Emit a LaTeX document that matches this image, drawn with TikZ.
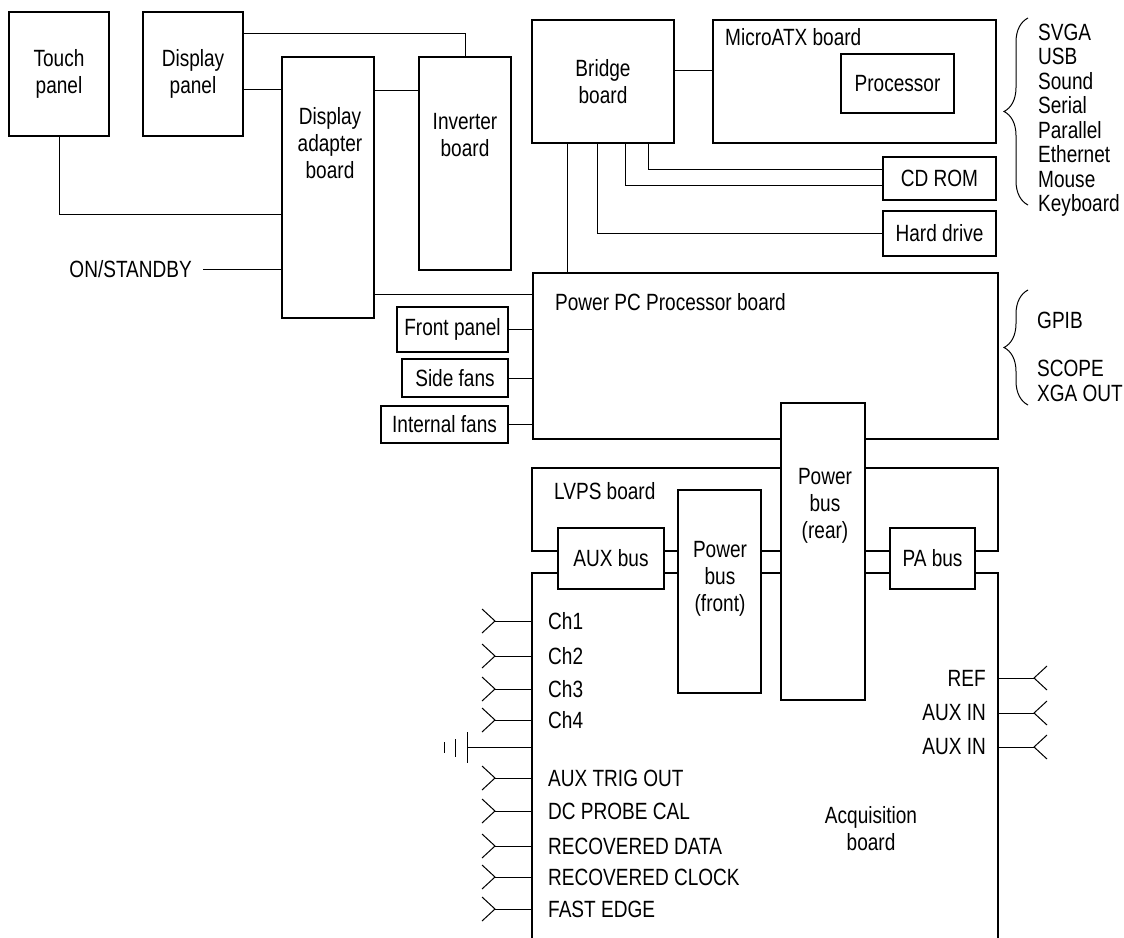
\documentclass[tikz,border=0pt]{standalone}
\usepackage{fontspec}
\setmainfont{Liberation Sans}[FakeStretch=0.81]
\usetikzlibrary{calc,positioning,decorations.pathreplacing}

\begin{document}
\begin{tikzpicture}[x=1pt, y=-1pt,
  box/.style={draw, line width=2pt, inner sep=0pt, align=center, font=\fontsize{23.5}{27}\selectfont},
  bus/.style={box, fill=white},
  wire/.style={line width=1pt},
  txt/.style={inner sep=0pt, align=center, font=\fontsize{23.5}{27}\selectfont},
  brc/.style={line width=1pt, decorate, decoration={brace, amplitude=24pt}}]
\useasboundingbox (0,0) rectangle (1124,937);

% display side
\node[box, minimum width=100pt, minimum height=124pt] (touch) at (59,74) {Touch\\panel};
\node[box, minimum width=100pt, minimum height=124pt] (dpanel) at (193,74) {Display\\panel};
\node[box, minimum width=92pt, minimum height=261pt] (adapter) at (328,187.5) {};
\node[txt] (adaptert) at (330,143.5) {Display\\adapter\\board};
\node[box, minimum width=92pt, minimum height=213pt] (inverter) at (465,163.5) {};
\node[txt] (invertert) at (465,135) {Inverter\\board};
\node[txt, anchor=east] (onstby) at (192,269) {ON/STANDBY};

% pc side
\node[box, minimum width=142pt, minimum height=123pt] (bridge) at (603,81.5) {Bridge\\board};
\node[box, minimum width=283pt, minimum height=123pt] (micro) at (854.5,81.5) {};
\node[txt, anchor=west] (microt) at (725,37) {MicroATX board};
\node[box, line width=1.2pt, minimum width=113pt, minimum height=59pt] (proc) at (897.5,83.5) {Processor};
\node[box, minimum width=113pt, minimum height=43pt] (cdrom) at (939.5,178.5) {CD ROM};
\node[box, minimum width=113pt, minimum height=45pt] (hdd) at (939.5,233.5) {Hard drive};

\node[box, minimum width=465pt, minimum height=166pt] (ppc) at (765.5,356) {};
\node[txt, anchor=west] (ppct) at (555,302) {Power PC Processor board};
\node[box, minimum width=111pt, minimum height=45pt] (fpanel) at (452.5,329.5) {Front panel};
\node[box, minimum width=106pt, minimum height=38pt] (sfans) at (455,378) {Side fans};
\node[box, minimum width=127pt, minimum height=37pt] (ifans) at (444.5,424.5) {Internal fans};

% power and acquisition
\node[box, minimum width=466pt, minimum height=83pt] (lvps) at (765,509.5) {};
\node[txt, anchor=west] (lvpst) at (554,491) {LVPS board};
\node[inner sep=0pt, minimum width=466pt, minimum height=366pt] (acq) at (765,756) {};
\draw[line width=2pt] (acq.south west) -- (acq.north west) -- (acq.north east) -- (acq.south east);
\node[txt] (acqt) at (871,829) {Acquisition\\board};

\node[bus, minimum width=84pt, minimum height=297pt] (rear) at (823,551.5) {};
\node[txt] (reart) at (825,505.5) {Power\\bus\\(rear)};
\node[bus, minimum width=83pt, minimum height=203pt] (front) at (719.5,591.5) {};
\node[txt] (frontt) at (720,578.5) {Power\\bus\\(front)};
\node[bus, minimum width=106pt, minimum height=61pt] (auxbus) at (611,558.5) {AUX bus};
\node[bus, minimum width=85pt, minimum height=61pt] (pabus) at (932.5,558.5) {PA bus};

% wiring
\draw[wire] ([yshift=-22pt]dpanel.north east) -| (inverter.north);
\draw[wire] ([yshift=-15pt]dpanel.east) coordinate (dp) -- (dp -| adapter.west);
\draw[wire] ([yshift=-34pt]adapter.north east) coordinate (ad) -- (ad -| inverter.west);
\draw[wire] (touch.south) |- ([yshift=-158pt]adapter.north west);
\draw[wire] ([xshift=11pt]onstby.east) -- (onstby.east -| adapter.west);
\draw[wire] ([yshift=25pt]adapter.south east) coordinate (ap) -- (ap -| ppc.west);

\draw[wire] ([yshift=11pt]bridge.east) coordinate (bm) -- (bm -| micro.west);
\draw[wire] ([xshift=45pt]bridge.south) |- ([yshift=9.5pt]cdrom.west);
\draw[wire] ([xshift=22pt]bridge.south) |- ([yshift=-6.5pt]cdrom.west);
\draw[wire] ([xshift=-6pt]bridge.south) |- (hdd.west);
\draw[wire] ([xshift=-36pt]bridge.south) coordinate (bp) -- (bp |- ppc.north);

\draw[wire] (fpanel.east) -- (fpanel.east -| ppc.west);
\draw[wire] (sfans.east) -- (sfans.east -| ppc.west);
\draw[wire] (ifans.east) -- (ifans.east -| ppc.west);

% connectors
\foreach \y/\name [count=\i] in {621/Ch1, 656/Ch2, 689/Ch3, 720/Ch4, 778/AUX TRIG OUT,
    811/DC PROBE CAL, 846/RECOVERED DATA, 877/RECOVERED CLOCK, 909/FAST EDGE} {
  \node[txt, anchor=west] (sig\i) at (548,\y) {\name};
  \coordinate (in\i) at (495,\y);
  \draw[wire] (in\i) -- (in\i -| acq.west);
  \draw[wire] ($(in\i)+(-13,-12)$) -- (in\i) -- ($(in\i)+(-13,12)$);
}
\foreach \y/\name [count=\i] in {678/REF, 713/AUX IN, 747/AUX IN} {
  \node[txt, anchor=east] (ref\i) at (986,\y) {\name};
  \coordinate (out\i) at (1034,\y);
  \draw[wire] (out\i) -- (out\i -| acq.east);
  \draw[wire] ($(out\i)+(13,-12)$) -- (out\i) -- ($(out\i)+(13,12)$);
}
% ground
\coordinate (gnd) at (467,747);
\draw[wire] (gnd) -- (gnd -| acq.west);
\draw[wire] (gnd) ++(0,-15) -- ++(0,31);
\draw[wire] (gnd) ++(-12,-8) -- ++(0,18);
\draw[wire] (gnd) ++(-23,-5) -- ++(0,11);

% ports
\draw[brc] (1028,205) -- (1028,18);
\node[txt, anchor=west, align=left, font=\fontsize{23.5}{24.5}\selectfont] (ports) at (1038,120) {SVGA\\USB\\Sound\\Serial\\Parallel\\Ethernet\\Mouse\\Keyboard};
\draw[brc] (1028,405) -- (1028,290);
\node[txt, anchor=west] (gpib) at (1037,320) {GPIB};
\node[txt, anchor=west, align=left, font=\fontsize{23.5}{25}\selectfont] (scope) at (1037,381) {SCOPE\\XGA OUT};
\end{tikzpicture}
\end{document}
